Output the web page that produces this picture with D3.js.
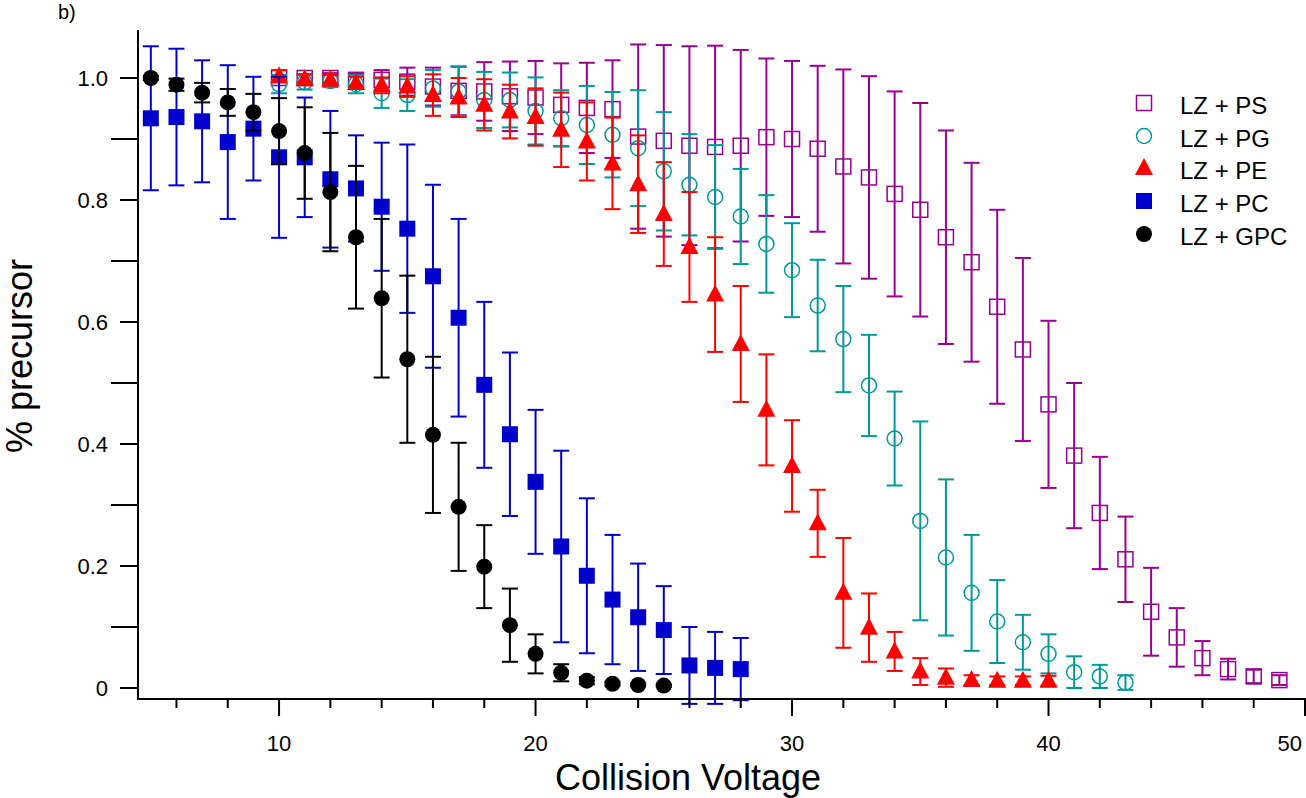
<!DOCTYPE html>
<html>
<head>
<meta charset="utf-8">
<script src="https://cdn.jsdelivr.net/npm/d3@7"></script>
<style>
  html, body { margin: 0; padding: 0; background: #fff; }
  svg { display: block; font-family: "Liberation Sans", Arial, sans-serif; }
</style>
</head>
<body>
<svg id="chart" width="1306" height="798"></svg>
<script>
// ---------------- data ----------------
const psX   = [10,11,12,13,14,15,16,17,18,19,20,21,22,23,24,25,26,27,28,29,30,31,32,33,34,35,36,37,38,39,40,41,42,43,44,45,46,47,48,49];
const psY   = [1.000,1.000,1.000,0.997,0.997,0.994,0.986,0.979,0.978,0.970,0.968,0.956,0.951,0.949,0.904,0.897,0.889,0.887,0.889,0.903,0.900,0.884,0.855,0.837,0.810,0.784,0.739,0.698,0.625,0.555,0.465,0.381,0.287,0.211,0.125,0.083,0.049,0.031,0.019,0.013];
const psErr = [0.005,0.006,0.008,0.010,0.016,0.023,0.031,0.040,0.048,0.057,0.060,0.068,0.074,0.080,0.151,0.157,0.163,0.166,0.157,0.129,0.128,0.136,0.159,0.166,0.168,0.175,0.175,0.163,0.159,0.150,0.137,0.119,0.092,0.070,0.072,0.048,0.028,0.017,0.011,0.008];

const pgX   = [10,11,12,13,14,15,16,17,18,19,20,21,22,23,24,25,26,27,28,29,30,31,32,33,34,35,36,37,38,39,40,41,42,43];
const pgY   = [0.990,0.993,0.995,0.990,0.975,0.972,0.983,0.978,0.964,0.964,0.946,0.934,0.923,0.907,0.885,0.847,0.825,0.805,0.773,0.728,0.685,0.627,0.572,0.496,0.409,0.274,0.214,0.156,0.109,0.075,0.056,0.026,0.019,0.009];
const pgErr = [0.015,0.012,0.010,0.015,0.024,0.026,0.030,0.040,0.046,0.045,0.055,0.046,0.064,0.070,0.095,0.097,0.083,0.085,0.078,0.080,0.077,0.075,0.087,0.083,0.077,0.163,0.128,0.095,0.068,0.045,0.032,0.026,0.019,0.012];

const peX   = [10,11,12,13,14,15,16,17,18,19,20,21,22,23,24,25,26,27,28,29,30,31,32,33,34,35,36,37,38,39,40];
const peY   = [1.003,0.998,0.997,0.992,0.988,0.986,0.972,0.968,0.956,0.945,0.936,0.915,0.896,0.860,0.826,0.777,0.723,0.645,0.564,0.456,0.364,0.270,0.156,0.099,0.060,0.027,0.017,0.013,0.012,0.012,0.012];
const peErr = [0.010,0.008,0.008,0.010,0.013,0.017,0.034,0.032,0.042,0.044,0.047,0.061,0.064,0.075,0.080,0.085,0.090,0.094,0.095,0.091,0.075,0.055,0.090,0.056,0.032,0.022,0.015,0.008,0.007,0.007,0.008];

const pcX   = [5,6,7,8,9,10,11,12,13,14,15,16,17,18,19,20,21,22,23,24,25,26,27,28];
const pcY   = [0.934,0.936,0.929,0.895,0.917,0.870,0.870,0.834,0.819,0.789,0.753,0.675,0.607,0.497,0.416,0.338,0.232,0.184,0.145,0.116,0.095,0.037,0.033,0.031];
const pcErr = [0.118,0.112,0.100,0.126,0.085,0.132,0.098,0.112,0.087,0.105,0.138,0.150,0.162,0.136,0.134,0.118,0.157,0.127,0.106,0.088,0.072,0.063,0.059,0.051];

const gpcX   = [5,6,7,8,9,10,11,12,13,14,15,16,17,18,19,20,21,22,23,24,25];
const gpcY   = [1.000,0.989,0.976,0.960,0.944,0.913,0.877,0.813,0.739,0.639,0.539,0.415,0.297,0.199,0.103,0.056,0.025,0.012,0.007,0.005,0.004];
const gpcErr = [0.003,0.010,0.016,0.022,0.030,0.054,0.075,0.097,0.117,0.130,0.137,0.128,0.105,0.068,0.060,0.032,0.014,0.006,0.003,0.002,0.002];

const seriesNames = ["LZ + PS", "LZ + PG", "LZ + PE", "LZ + PC", "LZ + GPC"];
const xMajorTicks = [10, 20, 30, 40, 50];
const xMinorTicks = [6, 8, 12, 14, 16, 18, 22, 24, 26, 28, 32, 34, 36, 38, 42, 44, 46, 48];
const yMajorTicks = [0, 0.2, 0.4, 0.6, 0.8, 1.0];
const yMinorTicks = [0.1, 0.3, 0.5, 0.7, 0.9];

// ---------------- layout ----------------
const svg = d3.select("#chart");
const x = d3.scaleLinear().domain([4.5, 50]).range([138, 1305]);
const y = d3.scaleLinear().domain([-0.018, 1.0787]).range([699, 30]);

const styles = [
  {name: seriesNames[0], xs: psX,  ys: psY,  es: psErr,  color: "#990090", shape: "openSquare"},
  {name: seriesNames[1], xs: pgX,  ys: pgY,  es: pgErr,  color: "#009999", shape: "openCircle"},
  {name: seriesNames[2], xs: peX,  ys: peY,  es: peErr,  color: "#ff0000", shape: "triangle"},
  {name: seriesNames[3], xs: pcX,  ys: pcY,  es: pcErr,  color: "#0000cc", shape: "square"},
  {name: seriesNames[4], xs: gpcX, ys: gpcY, es: gpcErr, color: "#000000", shape: "circle"}
];

function drawMarker(g, shape, color, cx, cy) {
  if (shape === "circle") {
    g.append("circle").attr("cx", cx).attr("cy", cy).attr("r", 8).attr("fill", color);
  } else if (shape === "openCircle") {
    g.append("circle").attr("cx", cx).attr("cy", cy).attr("r", 7.5)
      .attr("fill", "none").attr("stroke", color).attr("stroke-width", 1.5);
  } else if (shape === "square") {
    g.append("rect").attr("x", cx - 8).attr("y", cy - 8).attr("width", 16).attr("height", 16).attr("fill", color);
  } else if (shape === "openSquare") {
    g.append("rect").attr("x", cx - 7.5).attr("y", cy - 7.5).attr("width", 15).attr("height", 15)
      .attr("fill", "none").attr("stroke", color).attr("stroke-width", 1.5);
  } else if (shape === "triangle") {
    g.append("path").attr("d", `M${cx},${cy - 10} L${cx + 9},${cy + 7} L${cx - 9},${cy + 7} Z`).attr("fill", color);
  }
}

// ---------------- series ----------------
const capW = 8;
styles.forEach(s => {
  const g = svg.append("g");
  const pts = s.xs.map((v, i) => ({x: v, y: s.ys[i], e: s.es[i]}));
  const eb = g.append("g").attr("stroke", s.color).attr("stroke-width", 2).attr("fill", "none");
  pts.forEach(p => {
    const px = x(p.x), y1 = y(p.y + p.e), y2 = y(p.y - p.e);
    eb.append("line").attr("x1", px).attr("x2", px).attr("y1", y1).attr("y2", y2);
    eb.append("line").attr("x1", px - capW).attr("x2", px + capW).attr("y1", y1).attr("y2", y1);
    eb.append("line").attr("x1", px - capW).attr("x2", px + capW).attr("y1", y2).attr("y2", y2);
  });
  pts.forEach(p => drawMarker(g, s.shape, s.color, x(p.x), y(p.y)));
});

// ---------------- axes ----------------
const axG = svg.append("g").attr("stroke", "#000").attr("stroke-width", 2);
axG.append("line").attr("x1", 138).attr("x2", 138).attr("y1", 30).attr("y2", 700);
axG.append("line").attr("x1", 137).attr("x2", 1306).attr("y1", 699).attr("y2", 699);

xMajorTicks.forEach(t => axG.append("line").attr("x1", x(t)).attr("x2", x(t)).attr("y1", 699).attr("y2", 716));
xMinorTicks.forEach(t => axG.append("line").attr("x1", x(t)).attr("x2", x(t)).attr("y1", 699).attr("y2", 708));
yMajorTicks.forEach(t => axG.append("line").attr("x1", 120).attr("x2", 138).attr("y1", y(t)).attr("y2", y(t)));
yMinorTicks.forEach(t => axG.append("line").attr("x1", 111).attr("x2", 138).attr("y1", y(t)).attr("y2", y(t)));

const fmtY = v => v === 0 ? "0" : d3.format(".1f")(v);
svg.append("g").selectAll("text").data(yMajorTicks).join("text")
  .attr("x", 108).attr("y", d => y(d)).attr("dy", "0.35em")
  .attr("text-anchor", "end").attr("font-size", 22).text(fmtY);
const lastX = xMajorTicks[xMajorTicks.length - 1];
svg.append("g").selectAll("text").data(xMajorTicks).join("text")
  .attr("x", d => d === lastX ? 1302 : x(d)).attr("y", 743).attr("dy", "0.35em")
  .attr("text-anchor", d => d === lastX ? "end" : "middle").attr("font-size", 22).text(d => d);

svg.append("text").attr("x", 688).attr("y", 790).attr("text-anchor", "middle")
  .attr("font-size", 36).text("Collision Voltage");
svg.append("text").attr("transform", "translate(32,356) rotate(-90)").attr("text-anchor", "middle")
  .attr("font-size", 36).text("% precursor");
svg.append("text").attr("x", 58).attr("y", 19).attr("font-size", 20).text("b)");

// ---------------- legend ----------------
const legRows = [106, 139, 171, 204, 237];
const leg = svg.append("g");
styles.forEach((s, i) => {
  const cy = legRows[i];
  drawMarker(leg, s.shape, s.color, 1144, cy - 3);
  leg.append("text").attr("x", 1180).attr("y", cy).attr("dy", "0.35em")
    .attr("font-size", 24).text(s.name);
});
</script>
</body>
</html>
